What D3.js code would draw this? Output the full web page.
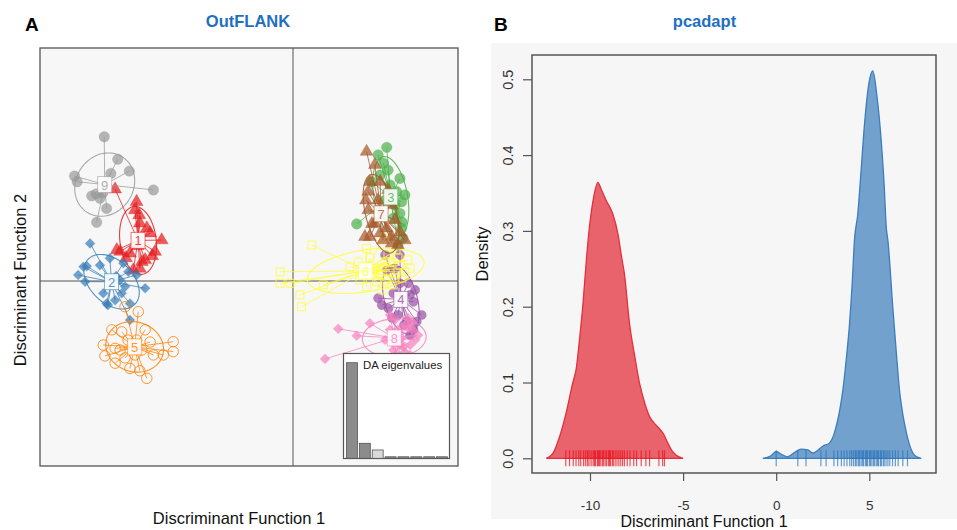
<!DOCTYPE html>
<html>
<head>
<meta charset="utf-8">
<script src="https://cdn.jsdelivr.net/npm/d3@7"></script>
<style>
  body { margin: 0; background: #fff; }
  svg text { font-family: "Liberation Sans", Arial, sans-serif; }
</style>
</head>
<body>
<script>
// ---------- panel A : DAPC scatter (OutFLANK) ----------
const clusterNames = ['1', '2', '3', '4', '5', '6', '7', '8', '9'];

const cluster1 = [[-5.39,2.78],[-4.74,2.40],[-4.79,2.15],[-4.66,2.00],[-4.64,1.75],[-4.43,1.60],[-4.33,1.45],
  [-3.98,1.24],[-4.18,0.89],[-4.48,0.64],[-4.94,0.84],[-5.24,0.89],[-5.34,0.94],[-4.64,0.38],[-4.84,0.33],
  [-4.58,0.58],[-4.27,0.76],[-5.06,0.70],[-4.70,1.06]];
const cluster2 = [[-6.15,1.14],[-6.51,0.18],[-6.35,0.43],[-6.25,0.45],[-5.85,0.48],[-5.55,0.69],[-5.14,0.54],
  [-4.99,0.28],[-4.74,0.18],[-4.48,-0.22],[-5.09,-0.17],[-5.19,-0.37],[-5.39,-0.58],[-5.65,-0.68],[-5.61,-0.73],
  [-5.75,-0.37],[-6.30,-0.02],[-4.94,-0.68],[-4.94,-1.18],[-5.36,0.15],[-5.24,0.03]];
const cluster3 = [[2.84,4.05],[2.58,3.82],[2.74,3.57],[3.24,3.11],[3.14,2.71],[3.29,2.40],[3.24,2.05],[3.29,1.60],
  [3.04,1.90],[1.93,1.73],[2.38,3.01],[2.64,3.21],[2.94,2.91],[3.39,2.61],[3.09,2.30],[3.30,1.79],[2.79,2.45],
  [2.88,3.36],[3.33,1.30],[3.18,1.09]];
const cluster4 = [[2.79,0.79],[3.24,0.79],[2.84,0.33],[3.09,0.38],[2.58,-0.52],[2.69,-0.73],[2.89,-0.83],[3.55,-0.42],
  [3.70,-0.27],[3.49,-0.07],[3.65,-0.63],[3.90,-1.03],[3.75,-1.23],[3.65,-1.48],[3.45,-1.23],[3.24,-0.07],
  [3.04,-0.37],[3.18,-1.03],[3.36,-1.33],[3.00,-1.12],[3.55,-1.64]];
const cluster5 = [[-4.69,-0.93],[-5.09,-0.78],[-5.49,-1.48],[-5.19,-1.54],[-5.75,-1.94],[-5.70,-2.27],[-5.39,-2.49],
  [-4.94,-2.65],[-4.64,-2.72],[-4.43,-2.95],[-4.23,-2.24],[-3.93,-2.24],[-3.63,-1.84],[-3.63,-2.14],[-4.48,-1.48],
  [-4.74,-1.79],[-4.58,-2.09],[-5.39,-2.04],[-5.24,-2.09],[-5.00,-1.79],[-4.79,-2.24],[-5.09,-2.33],[-4.33,-1.85]];
const cluster6 = [[0.57,1.09],[-0.39,0.28],[-0.39,-0.07],[-0.09,-0.07],[1.73,0.43],[1.98,0.58],[2.23,0.99],[2.74,1.29],
  [0.21,-0.42],[0.26,-0.78],[0.92,-0.12],[2.03,0.03],[2.23,-0.17],[2.54,-0.02],[2.79,0.58],[2.94,0.33],[3.09,0.09],
  [2.64,0.18],[2.88,0.79],[3.24,0.48],[3.00,-0.12],[2.48,0.39],[3.18,0.70],[3.39,0.27],[2.70,-0.27],[2.33,0.70],
  [3.55,0.39],[3.30,0.09],[3.12,0.94],[3.48,0.64],[2.94,0.58],[2.82,0.03]];
const cluster7 = [[2.23,3.92],[2.33,3.01],[2.28,2.71],[2.28,2.15],[2.18,1.34],[2.33,1.34],[2.48,1.75],[2.64,1.45],
  [2.84,1.60],[2.99,1.34],[2.64,3.01],[2.58,2.45],[2.99,1.14],[2.39,1.73],[2.73,1.24],[3.18,1.09],[2.21,2.45],
  [2.48,3.52],[3.00,2.30],[3.09,1.85],[3.24,1.48],[2.88,2.76],[3.39,1.24]];
const cluster8 = [[1.37,-1.45],[1.93,-1.66],[0.97,-2.36],[2.33,-1.28],[2.94,-1.03],[3.04,-2.09],[3.24,-2.29],[3.34,-1.99],
  [3.34,-2.39],[3.19,-1.79],[3.09,-1.64],[3.24,-1.94],[3.39,-2.15],[3.00,-1.85],[3.55,-1.94],[3.18,-1.48],[3.39,-1.33],
  [3.09,-1.18],[2.79,-1.79],[3.30,-1.73],[3.48,-1.42],[3.12,-2.24],[2.94,-1.48],[3.61,-1.48],[3.70,-1.79],[3.48,-1.12],
  [3.55,-2.24],[3.79,-1.64],[3.61,-1.24]];
const cluster9 = [[-5.72,4.37],[-5.31,3.69],[-4.96,3.33],[-5.52,3.26],[-6.62,3.18],[-6.54,3.01],[-4.23,2.76],[-6.10,2.58],
  [-5.97,2.64],[-5.85,2.51],[-5.65,2.20],[-5.95,1.78],[-5.76,2.67]];
const clusterPoints = [cluster1, cluster2, cluster3, cluster4, cluster5, cluster6, cluster7, cluster8, cluster9];

const eigenValues = [100, 15.7, 8.7, 1.5, 1.2, 1.0, 0.8, 0.6];

// ---------- panel B : pcadapt density ----------
const redDensX = [-12.35,-12.0,-11.64,-11.28,-10.92,-10.74,-10.55,-10.39,-10.2,-10.03,-9.8,-9.58,-9.4,-9.13,-8.77,
  -8.5,-8.3,-8.15,-7.88,-7.6,-7.34,-7.05,-6.8,-6.5,-6.27,-6.05,-5.82,-5.6,-5.37,-5.0];
const redDensY = [0,0.006,0.028,0.06,0.1,0.118,0.16,0.2,0.26,0.305,0.345,0.364,0.355,0.34,0.322,
  0.296,0.265,0.243,0.178,0.135,0.099,0.072,0.055,0.045,0.039,0.032,0.02,0.01,0.004,0];
const blueDensX = [-0.72,-0.3,0,0.3,0.6,1.0,1.34,1.7,1.97,2.25,2.5,2.86,3.05,3.22,3.4,3.58,3.76,3.94,4.08,4.2,
  4.38,4.56,4.74,4.95,5.19,5.4,5.64,5.8,5.91,6.0,6.26,6.45,6.62,6.8,7.0,7.17,7.34,7.55,7.79];
const blueDensY = [0,0.003,0.009,0.005,0.002,0.008,0.012,0.011,0.007,0.011,0.016,0.02,0.028,0.042,0.062,0.09,0.13,0.178,0.23,0.287,
  0.322,0.38,0.44,0.49,0.511,0.48,0.419,0.36,0.305,0.287,0.2,0.14,0.09,0.058,0.033,0.017,0.007,0.002,0];
const redRug = [-11.3,-11.1,-10.9,-10.75,-10.6,-10.5,-10.35,-10.25,-10.15,-10.1,-10.0,-9.9,-9.8,-9.75,-9.7,-9.6,-9.55,
  -9.5,-9.45,-9.35,-9.3,-9.25,-9.15,-9.1,-9.0,-8.95,-8.9,-8.8,-8.75,-8.65,-8.55,-8.45,-8.35,-8.25,-8.15,-8.0,-7.85,
  -7.65,-7.5,-7.25,-7.0,-6.8,-6.3,-6.1,-6.0];
const blueRug = [0,1.16,1.6,2.4,2.68,3.1,3.3,3.5,3.65,3.8,3.95,4.05,4.15,4.25,4.3,4.4,4.45,4.5,4.6,4.65,4.7,4.8,4.85,
  4.9,5.0,5.05,5.1,5.2,5.25,5.3,5.4,5.45,5.5,5.6,5.65,5.75,5.8,5.9,6.0,6.1,6.25,6.4,6.55,6.8,7.05];
const yTicksB = [0, 0.1, 0.2, 0.3, 0.4, 0.5];
const xTicksB = [-10, -5, 0, 5];

const svg = d3.select('body').append('svg')
    .attr('width', 957)
    .attr('height', 530);

// ===== panel A =====
const xA = d3.scaleLinear().domain([-7.667, 5.0]).range([40, 458]);
const yA = d3.scaleLinear().domain([-5.606, 7.061]).range([466, 48]);

svg.append('rect')
    .attr('x', 40).attr('y', 48).attr('width', 418).attr('height', 418)
    .attr('fill', '#f7f7f7');
svg.append('line')
    .attr('x1', xA(0)).attr('x2', xA(0)).attr('y1', 48).attr('y2', 466)
    .attr('stroke', '#555').attr('stroke-width', 1);
svg.append('line')
    .attr('x1', 40).attr('x2', 458).attr('y1', yA(0)).attr('y2', yA(0))
    .attr('stroke', '#555').attr('stroke-width', 1);

const colors = d3.schemeSet1;
const shapes = ['triangle', 'diamond', 'circle', 'circle', 'opencircle', 'opensquare', 'triangle', 'diamond', 'circle'];
const centers = [];
const gA = svg.append('g');

clusterPoints.forEach((pts, i) => {
  const col = colors[i];
  const mx = d3.mean(pts, d => d[0]);
  const my = d3.mean(pts, d => d[1]);
  centers.push([mx, my]);
  // covariance ellipse (1.5 sd, like ade4 cellipse)
  const vx = d3.mean(pts, d => (d[0] - mx) ** 2);
  const vy = d3.mean(pts, d => (d[1] - my) ** 2);
  const cxy = d3.mean(pts, d => (d[0] - mx) * (d[1] - my));
  const tr = vx + vy, det = vx * vy - cxy * cxy;
  const disc = Math.sqrt(Math.max(tr * tr / 4 - det, 0));
  const l1 = tr / 2 + disc, l2 = Math.max(tr / 2 - disc, 0);
  const th = 0.5 * Math.atan2(2 * cxy, vx - vy);
  const a = 1.5 * Math.sqrt(l1), b = 1.5 * Math.sqrt(l2);
  const ell = d3.range(0, 2 * Math.PI, Math.PI / 40).map(t => [
    mx + a * Math.cos(t) * Math.cos(th) - b * Math.sin(t) * Math.sin(th),
    my + a * Math.cos(t) * Math.sin(th) + b * Math.sin(t) * Math.cos(th)
  ]);

  const g = gA.append('g');
  g.append('path')
      .attr('d', d3.line().x(d => xA(d[0])).y(d => yA(d[1])).curve(d3.curveLinearClosed)(ell))
      .attr('fill', 'none')
      .attr('stroke', col)
      .attr('stroke-opacity', 0.85)
      .attr('stroke-width', 1.1);

  g.selectAll('line.seg')
      .data(pts)
      .enter()
      .append('line')
      .attr('class', 'seg')
      .attr('x1', xA(mx)).attr('y1', yA(my))
      .attr('x2', d => xA(d[0])).attr('y2', d => yA(d[1]))
      .attr('stroke', col)
      .attr('stroke-opacity', 0.75)
      .attr('stroke-width', 1);

  const shape = shapes[i];
  let sym;
  if (shape === 'triangle') sym = d3.symbol().type(d3.symbolTriangle).size(72);
  else if (shape === 'diamond') sym = d3.symbol().type(d3.symbolSquare).size(46);
  else if (shape === 'opensquare') sym = d3.symbol().type(d3.symbolSquare).size(64);
  else sym = d3.symbol().type(d3.symbolCircle).size(i === 3 ? 66 : 86);
  const open = shape.startsWith('open');

  g.selectAll('path.pt')
      .data(pts)
      .enter()
      .append('path')
      .attr('class', 'pt')
      .attr('d', sym)
      .attr('transform', d => `translate(${xA(d[0])},${yA(d[1])})` + (shape === 'diamond' ? ' rotate(45)' : ''))
      .attr('fill', open ? 'none' : col)
      .attr('fill-opacity', 0.7)
      .attr('stroke', col)
      .attr('stroke-opacity', open ? 0.8 : 0.3)
      .attr('stroke-width', 1);
});

// cluster labels
centers.forEach((c, i) => {
  const lg = svg.append('g').attr('transform', `translate(${xA(c[0])},${yA(c[1])})`);
  lg.append('rect')
      .attr('x', -7).attr('y', -8).attr('width', 14).attr('height', 16)
      .attr('fill', '#fff')
      .attr('fill-opacity', 0.9)
      .attr('stroke', colors[i])
      .attr('stroke-opacity', 0.6);
  lg.append('text')
      .attr('text-anchor', 'middle')
      .attr('y', 5)
      .style('font-size', '13px')
      .style('fill', colors[i])
      .style('fill-opacity', 0.8)
      .text(clusterNames[i]);
});

// eigenvalue inset
svg.append('rect')
    .attr('x', 343.5).attr('y', 353.5).attr('width', 106).attr('height', 105)
    .attr('fill', '#fff')
    .attr('stroke', '#555').attr('stroke-width', 1.2);
const xE = d3.scaleBand().domain(d3.range(eigenValues.length)).range([346.5, 447.5]).paddingInner(0.15);
const yE = d3.scaleLinear().domain([0, 100]).range([458.3, 362.7]);
svg.selectAll('rect.eig')
    .data(eigenValues)
    .enter()
    .append('rect')
    .attr('class', 'eig')
    .attr('x', (d, i) => xE(i))
    .attr('y', d => Math.min(yE(d), yE(0) - 1.5))
    .attr('width', xE.bandwidth())
    .attr('height', d => Math.max(yE(0) - yE(d), 1.5))
    .attr('fill', (d, i) => i === 2 ? '#dadada' : '#8c8c8c')
    .attr('stroke', '#555')
    .attr('stroke-width', 0.8);
svg.append('text')
    .attr('x', 363).attr('y', 368.5)
    .style('font-size', '11.4px')
    .style('fill', '#222')
    .text('DA eigenvalues');

svg.append('rect')
    .attr('x', 40).attr('y', 48).attr('width', 418).attr('height', 418)
    .attr('fill', 'none')
    .attr('stroke', '#555').attr('stroke-width', 1.3);

svg.append('text')
    .attr('x', 25).attr('y', 31)
    .style('font-size', '19px').style('font-weight', 'bold')
    .text('A');
svg.append('text')
    .attr('x', 248).attr('y', 27)
    .attr('text-anchor', 'middle')
    .style('font-size', '16.5px').style('font-weight', 'bold').style('fill', '#1f70c1')
    .text('OutFLANK');
svg.append('text')
    .attr('transform', 'translate(26,280) rotate(-90)')
    .attr('text-anchor', 'middle')
    .style('font-size', '16.5px').style('fill', '#111')
    .text('Discriminant Function 2');
svg.append('text')
    .attr('x', 239).attr('y', 524)
    .attr('text-anchor', 'middle')
    .style('font-size', '16.5px').style('fill', '#111')
    .text('Discriminant Function 1');

// ===== panel B =====
svg.append('rect')
    .attr('x', 491).attr('y', 43).attr('width', 466).attr('height', 476)
    .attr('fill', '#f6f6f6');

const xB = d3.scaleLinear().domain([-10, 5]).range([590, 869.3]);
const yB = d3.scaleLinear().domain([0, 0.5]).range([458.3, 79.3]);

const area = d3.area()
    .x(d => xB(d[0]))
    .y0(yB(0))
    .y1(d => yB(d[1]))
    .curve(d3.curveMonotoneX);

const redDens = redDensX.map((x, i) => [x, redDensY[i]]);
const blueDens = blueDensX.map((x, i) => [x, blueDensY[i]]);

svg.append('path')
    .attr('d', area(redDens))
    .attr('fill', '#e42f3c').attr('fill-opacity', 0.74)
    .attr('stroke', '#e42f3c').attr('stroke-width', 1.3);
svg.append('path')
    .attr('d', area(blueDens))
    .attr('fill', '#3b7dbd').attr('fill-opacity', 0.7)
    .attr('stroke', '#3b7dbd').attr('stroke-width', 1.3);

svg.selectAll('line.rugR')
    .data(redRug)
    .enter()
    .append('line')
    .attr('class', 'rugR')
    .attr('x1', d => xB(d)).attr('x2', d => xB(d))
    .attr('y1', yB(0) - 8).attr('y2', yB(0) + 8)
    .attr('stroke', '#e8101c').attr('stroke-opacity', 0.7).attr('stroke-width', 1.2);
svg.selectAll('line.rugB')
    .data(blueRug)
    .enter()
    .append('line')
    .attr('class', 'rugB')
    .attr('x1', d => xB(d)).attr('x2', d => xB(d))
    .attr('y1', yB(0) - 8).attr('y2', yB(0) + 8)
    .attr('stroke', '#2a74bb').attr('stroke-opacity', 0.7).attr('stroke-width', 1.2);

svg.append('rect')
    .attr('x', 532).attr('y', 55).attr('width', 404).attr('height', 418)
    .attr('fill', 'none')
    .attr('stroke', '#555').attr('stroke-width', 1.5);

const yAxisB = svg.append('g')
    .attr('transform', 'translate(532,0)')
    .call(d3.axisLeft(yB).tickValues(yTicksB).tickSize(9).tickFormat(d3.format('.1f')));
yAxisB.select('.domain').remove();
yAxisB.selectAll('line').attr('stroke', '#555').attr('stroke-width', 1.2);
yAxisB.selectAll('text')
    .attr('x', null).attr('dy', null)
    .attr('text-anchor', 'middle')
    .attr('transform', 'translate(-19.5,0) rotate(-90)')
    .style('font-size', '14.4px')
    .style('fill', '#333');

const xAxisB = svg.append('g')
    .attr('transform', 'translate(0,473)')
    .call(d3.axisBottom(xB).tickValues(xTicksB).tickSize(8).tickFormat(d => String(d)));
xAxisB.select('.domain').remove();
xAxisB.selectAll('line').attr('stroke', '#555').attr('stroke-width', 1.2);
xAxisB.selectAll('text')
    .attr('y', 37).attr('dy', null)
    .style('font-size', '13.5px')
    .style('fill', '#333');

svg.append('text')
    .attr('x', 494).attr('y', 31)
    .style('font-size', '19px').style('font-weight', 'bold')
    .text('B');
svg.append('text')
    .attr('x', 704.5).attr('y', 27)
    .attr('text-anchor', 'middle')
    .style('font-size', '16.5px').style('font-weight', 'bold').style('fill', '#1f70c1')
    .text('pcadapt');
svg.append('text')
    .attr('transform', 'translate(488,254) rotate(-90)')
    .attr('text-anchor', 'middle')
    .style('font-size', '16.5px').style('fill', '#111')
    .text('Density');
svg.append('text')
    .attr('x', 704).attr('y', 527)
    .attr('text-anchor', 'middle')
    .style('font-size', '16px').style('fill', '#111')
    .text('Discriminant Function 1');
</script>
</body>
</html>
